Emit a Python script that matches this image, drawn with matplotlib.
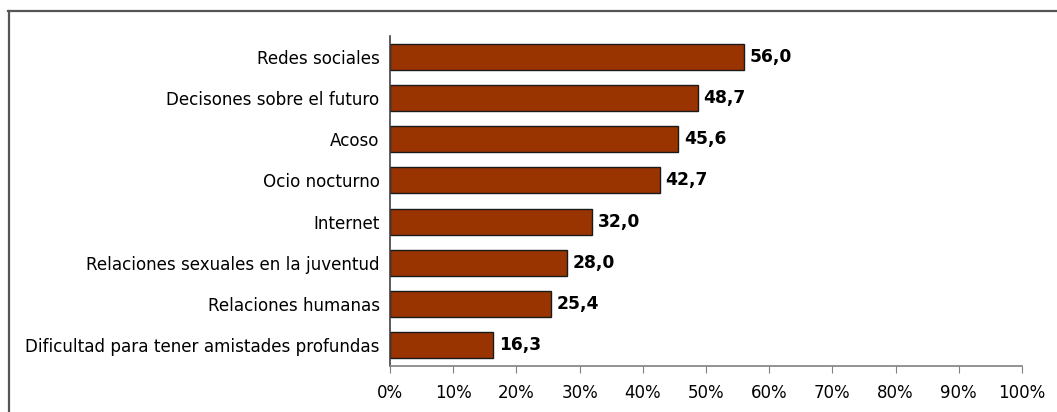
import matplotlib
matplotlib.use("Agg")
import matplotlib.pyplot as plt
from matplotlib.lines import Line2D

categories = ["Redes sociales", "Decisones sobre el futuro", "Acoso", "Ocio nocturno",
              "Internet", "Relaciones sexuales en la juventud", "Relaciones humanas",
              "Dificultad para tener amistades profundas"]
values = [56.0, 48.7, 45.6, 42.7, 32.0, 28.0, 25.4, 16.3]
xticks = [0, 10, 20, 30, 40, 50, 60, 70, 80, 90, 100]
xticklabels = [f"{t}%" for t in xticks]

plt.rcParams['font.family'] = ['DejaVu Sans']
fig = plt.figure(figsize=(10.57, 4.12), dpi=100)
ax = fig.add_axes([390/1057, 46/412, (1022-390)/1057, (366-36)/412])

n = len(categories)
ypos = list(range(n))[::-1]
ax.barh(ypos, values, height=0.63, color="#993300", edgecolor="#1a1a1a", linewidth=1.0)
for y, v in zip(ypos, values):
    ax.text(v + 0.9, y, f"{v:.1f}".replace(".", ","), va="center", ha="left",
            fontsize=12.3, fontweight="bold", color="black")

ax.set_xlim(0, 100)
ax.set_ylim(-0.5, n - 0.5)
ax.set_yticks(ypos)
ax.set_yticklabels(categories, fontsize=12.1)
ax.set_xticks(xticks)
ax.set_xticklabels(xticklabels, fontsize=12)
ax.tick_params(axis="y", length=0, pad=7.5)
ax.tick_params(axis="x", length=5, direction="out", color="#808080", pad=8)
for s in ["top", "right"]:
    ax.spines[s].set_visible(False)
ax.spines["left"].set_color("#404040")
ax.spines["left"].set_linewidth(1.2)
ax.spines["bottom"].set_color("#808080")
ax.spines["bottom"].set_linewidth(1.2)

# outer border (top and left visible)
fig.add_artist(Line2D([8/1057, 1.0], [1 - 10.5/412, 1 - 10.5/412], transform=fig.transFigure,
                      color="#555555", linewidth=1.6))
fig.add_artist(Line2D([8.5/1057, 8.5/1057], [0, 1 - 10.5/412], transform=fig.transFigure,
                      color="#555555", linewidth=1.6))

fig.savefig("out.png", dpi=100, facecolor="white")
